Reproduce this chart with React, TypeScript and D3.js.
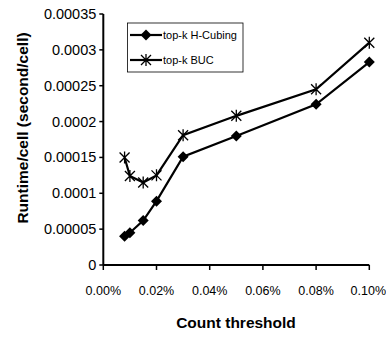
import React from "react";
import * as d3 from "d3";

const thresholds = [0.008, 0.01, 0.015, 0.02, 0.03, 0.05, 0.08, 0.1];
const hCubing = [0.00004, 0.000045, 0.000062, 0.000089, 0.000151, 0.00018, 0.000224, 0.000283];
const buc = [0.00015, 0.000124, 0.000115, 0.000125, 0.000181, 0.000208, 0.000245, 0.00031];
const yTicks = [0, 0.00005, 0.0001, 0.00015, 0.0002, 0.00025, 0.0003, 0.00035];
const yTickLabels = ["0", "0.00005", "0.0001", "0.00015", "0.0002", "0.00025", "0.0003", "0.00035"];
const xTicks = [0, 0.02, 0.04, 0.06, 0.08, 0.1];
const xTickLabels = ["0.00%", "0.02%", "0.04%", "0.06%", "0.08%", "0.10%"];
const seriesNames = ["top-k H-Cubing", "top-k BUC"];

const W = 386, H = 339;
const x = d3.scaleLinear().domain([0, 0.1]).range([103.3, 369.3]);
const y = d3.scaleLinear().domain([0, 0.00035]).range([265, 14]);
const font = "Arial, 'Liberation Sans', sans-serif";

function Diamond({ cx, cy }: { cx: number; cy: number }) {
  const r = 5.5;
  return <path d={`M${cx},${cy - r}L${cx + r},${cy}L${cx},${cy + r}L${cx - r},${cy}Z`} fill="#000" />;
}
function Star({ cx, cy }: { cx: number; cy: number }) {
  const r = 5;
  return (
    <path
      d={`M${cx - r},${cy - r}L${cx + r},${cy + r}M${cx - r},${cy + r}L${cx + r},${cy - r}M${cx},${cy - r - 1}L${cx},${cy + r + 1}`}
      stroke="#000"
      strokeWidth={1.3}
      fill="none"
    />
  );
}

export default function App() {
  const line = d3.line<number>().x((_, i) => x(thresholds[i])).y((d) => y(d));
  return (
    <svg width={W} height={H} style={{ position: "absolute", left: 0, top: 0, background: "#fff" }}>
      <rect width={W} height={H} fill="#fff" />
      {/* axes */}
      <line x1={x(0)} x2={x(0)} y1={y(0.00035)} y2={y(0)} stroke="#000" strokeWidth={2} />
      <line x1={x(0)} x2={x(0.1)} y1={y(0)} y2={y(0)} stroke="#000" strokeWidth={2} />
      {yTicks.map((t, i) => (
        <g key={"y" + i}>
          <line x1={x(0) - 4} x2={x(0)} y1={y(t)} y2={y(t)} stroke="#000" strokeWidth={1.5} />
          <text x={x(0) - 7} y={y(t) + 5} textAnchor="end" fontSize={14.5} fontFamily={font}>
            {yTickLabels[i]}
          </text>
        </g>
      ))}
      {xTicks.map((t, i) => (
        <g key={"x" + i}>
          <line x1={x(t)} x2={x(t)} y1={y(0)} y2={y(0) + 5} stroke="#000" strokeWidth={1.5} />
          <text x={i === xTicks.length - 1 ? x(t) - 1 : x(t)} y={295} textAnchor="middle" fontSize={12.5} fontFamily={font}>
            {xTickLabels[i]}
          </text>
        </g>
      ))}
      <text x={236} y={328} textAnchor="middle" fontSize={15.5} fontWeight="bold" fontFamily={font}>
        Count threshold
      </text>
      <text
        transform={`translate(28,128) rotate(-90)`}
        textAnchor="middle"
        fontSize={15.5}
        fontWeight="bold"
        fontFamily={font}
      >
        Runtime/cell (second/cell)
      </text>
      {/* series */}
      <path d={line(buc) || ""} fill="none" stroke="#000" strokeWidth={2.2} />
      <path d={line(hCubing) || ""} fill="none" stroke="#000" strokeWidth={2.2} />
      {hCubing.map((v, i) => (
        <Diamond key={"h" + i} cx={x(thresholds[i])} cy={y(v)} />
      ))}
      {buc.map((v, i) => (
        <Star key={"b" + i} cx={x(thresholds[i])} cy={y(v)} />
      ))}
      {/* legend */}
      <rect x={127.5} y={23} width={115.5} height={49} fill="#fff" stroke="#000" strokeWidth={0.8} />
      <line x1={130} x2={162} y1={35} y2={35} stroke="#000" strokeWidth={2.2} />
      <Diamond cx={146} cy={35} />
      <text x={163} y={39} fontSize={11} fontFamily={font}>{seriesNames[0]}</text>
      <line x1={130} x2={162} y1={60} y2={60} stroke="#000" strokeWidth={2.2} />
      <Star cx={146} cy={60} />
      <text x={163} y={64} fontSize={11} fontFamily={font}>{seriesNames[1]}</text>
    </svg>
  );
}
